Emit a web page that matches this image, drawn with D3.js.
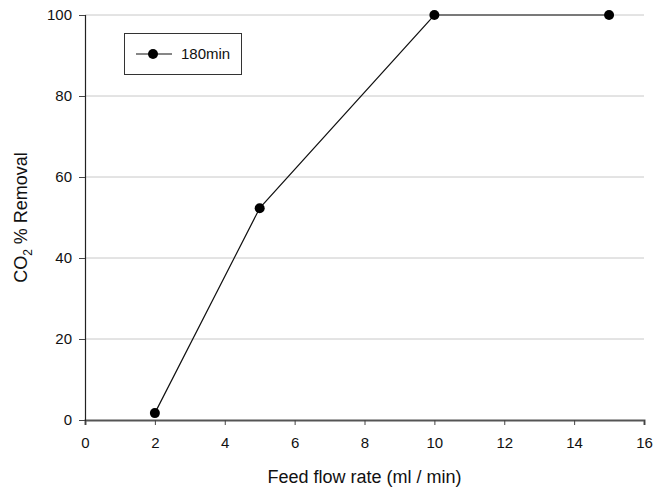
<!DOCTYPE html>
<html>
<head>
<meta charset="utf-8">
<script src="https://cdn.jsdelivr.net/npm/d3@7"></script>
<style>
  body { margin: 0; background: #fff; }
  text { font-family: "Liberation Sans", Arial, sans-serif; fill: #111; }
</style>
</head>
<body>
<div id="chart"></div>
<script>
// Data
var flowRates = [2, 5, 10, 15];
var removal = [1.7, 52.3, 100, 100];
var seriesName = "180min";
var xTicks = [0, 2, 4, 6, 8, 10, 12, 14, 16];
var yTicks = [0, 20, 40, 60, 80, 100];

var width = 653, height = 488;
var margin = {top: 15, right: 9, bottom: 68, left: 85};

var svg = d3.select("#chart")
    .append("svg")
    .attr("width", width)
    .attr("height", height);

var x = d3.scaleLinear().domain([0, 16]).range([margin.left, width - margin.right]);
var y = d3.scaleLinear().domain([0, 100]).range([height - margin.bottom, margin.top]);

// grid lines
svg.append("g")
    .selectAll("line")
    .data(yTicks.filter(function(d) { return d > 0; }))
    .enter()
    .append("line")
    .attr("x1", x(0))
    .attr("x2", x(16))
    .attr("y1", function(d) { return y(d); })
    .attr("y2", function(d) { return y(d); })
    .attr("stroke", "#c8c8c8")
    .attr("stroke-width", 1);

// axes
var xAxis = svg.append("g")
    .attr("transform", "translate(0," + y(0) + ")")
    .call(d3.axisBottom(x).tickValues(xTicks).tickSize(5).tickPadding(12).tickFormat(d3.format("d")));

var yAxis = svg.append("g")
    .attr("transform", "translate(" + x(0) + ",0)")
    .call(d3.axisLeft(y).tickValues(yTicks).tickSize(6).tickPadding(7).tickFormat(d3.format("d")));

xAxis.select(".domain").attr("stroke", "#555").attr("stroke-width", 2);
yAxis.select(".domain").attr("stroke", "#222").attr("stroke-width", 1.2);
xAxis.selectAll(".tick line").attr("stroke", "#444");
yAxis.selectAll(".tick line").attr("stroke", "#444");
svg.selectAll(".tick text")
    .attr("font-family", "Liberation Sans, Arial, sans-serif")
    .attr("font-size", 15)
    .attr("fill", "#111");

// series line + markers
var pts = flowRates.map(function(d, i) { return [d, removal[i]]; });

svg.append("path")
    .datum(pts)
    .attr("fill", "none")
    .attr("stroke", "#111")
    .attr("stroke-width", 1.2)
    .attr("d", d3.line().x(function(d) { return x(d[0]); }).y(function(d) { return y(d[1]); }));

svg.append("g")
    .selectAll("circle")
    .data(pts)
    .enter()
    .append("circle")
    .attr("cx", function(d) { return x(d[0]); })
    .attr("cy", function(d) { return y(d[1]); })
    .attr("r", 5)
    .attr("fill", "#000");

// axis titles
svg.append("text")
    .attr("x", (x(0) + x(16)) / 2)
    .attr("y", 483)
    .attr("text-anchor", "middle")
    .attr("font-size", 18)
    .text("Feed flow rate (ml / min)");

var yTitle = svg.append("text")
    .attr("transform", "translate(27," + ((y(0) + y(100)) / 2) + ") rotate(-90)")
    .attr("text-anchor", "middle")
    .attr("font-size", 18);
yTitle.append("tspan").text("CO");
yTitle.append("tspan").attr("font-size", 12).attr("dy", 5).text("2");
yTitle.append("tspan").attr("dy", -5).text(" % Removal");

// legend
var legend = svg.append("g");
legend.append("rect")
    .attr("x", 124.5)
    .attr("y", 33.5)
    .attr("width", 117)
    .attr("height", 41)
    .attr("fill", "#fff")
    .attr("stroke", "#333")
    .attr("stroke-width", 1);
legend.append("line")
    .attr("x1", 136).attr("x2", 172)
    .attr("y1", 54).attr("y2", 54)
    .attr("stroke", "#111").attr("stroke-width", 1.2);
legend.append("circle")
    .attr("cx", 153).attr("cy", 54).attr("r", 5).attr("fill", "#000");
legend.append("text")
    .attr("x", 181)
    .attr("y", 59)
    .attr("font-size", 15)
    .text(seriesName);
</script>
</body>
</html>
